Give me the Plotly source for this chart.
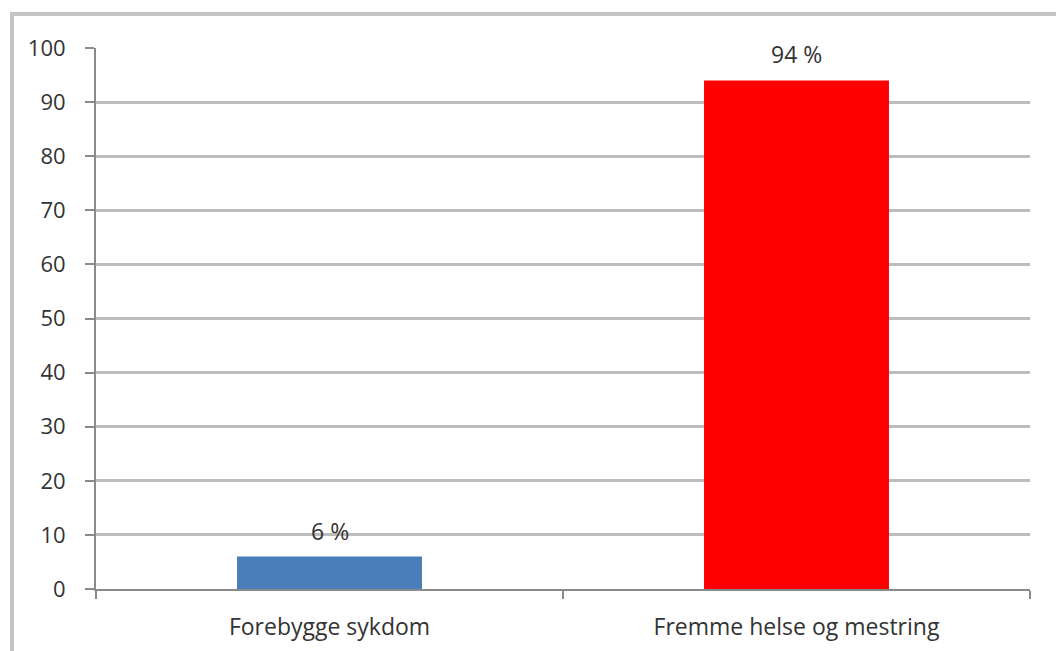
import plotly.graph_objects as go

# Share of responses per category (percent)
categories = ["Forebygge sykdom", "Fremme helse og mestring"]
values = [6, 94]
bar_colors = ["#4a7ebb", "#ff0000"]
y_ticks = [0, 10, 20, 30, 40, 50, 60, 70, 80, 90, 100]

W, H = 1056, 651
L, R, T, B = 96, 26, 48, 62
plot_w = W - L - R
plot_h = H - T - B

FONT = "Open Sans"
TXT = "#333333"

fig = go.Figure(
    go.Bar(
        x=categories,
        y=values,
        marker=dict(color=bar_colors, line=dict(width=0)),
        width=0.396,
        hoverinfo="x+y",
    )
)

# Value labels above each bar
for cat, val in zip(categories, values):
    fig.add_annotation(
        x=cat, y=val, text=f"{val} %", showarrow=False,
        yshift=26, yanchor="middle",
        font=dict(family=FONT, size=23, color=TXT),
    )

# Outer frame of the chart object (top and left edges visible)
def px_to_paper_x(px):
    return (px - L) / plot_w

def px_to_paper_y(py):
    return (H - B - py) / plot_h

fig.add_shape(
    type="rect", xref="paper", yref="paper",
    x0=px_to_paper_x(12), x1=px_to_paper_x(1080),
    y0=px_to_paper_y(680), y1=px_to_paper_y(14),
    line=dict(color="#c4c4c4", width=4), fillcolor="rgba(0,0,0,0)",
    layer="below",
)

fig.update_layout(
    width=W, height=H,
    margin=dict(l=L, r=R, t=T, b=B, pad=0, autoexpand=False),
    paper_bgcolor="white", plot_bgcolor="white",
    showlegend=False,
    font=dict(family=FONT, size=22, color=TXT),
    xaxis=dict(
        type="category",
        automargin=False,
        showline=True, linecolor="#8a8a8a", linewidth=2,
        ticks="outside", tickson="boundaries", ticklen=8,
        tickcolor="#8a8a8a", tickwidth=2,
        showgrid=False,
        ticklabelstandoff=16,
        tickfont=dict(family=FONT, size=23, color=TXT),
    ),
    yaxis=dict(
        range=[0, 100],
        automargin=False,
        tickvals=y_ticks,
        showline=True, linecolor="#8a8a8a", linewidth=2,
        ticks="outside", ticklen=9, tickcolor="#8a8a8a", tickwidth=2,
        showgrid=True, gridcolor="#bdbdbd", gridwidth=3,
        zeroline=False,
        ticklabelstandoff=15,
        tickfont=dict(family=FONT, size=22, color=TXT),
    ),
)

fig.write_html("out.html")
